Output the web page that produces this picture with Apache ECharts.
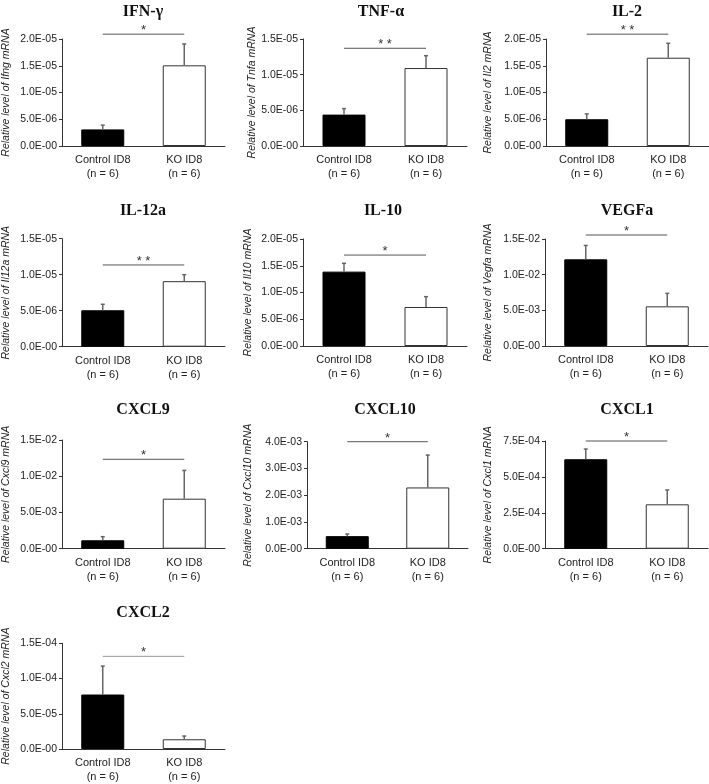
<!DOCTYPE html>
<html>
<head>
<meta charset="utf-8">
<script src="https://cdn.jsdelivr.net/npm/echarts@6/dist/echarts.min.js"></script>
<style>html,body{margin:0;padding:0;background:#fff}#c{width:709px;height:784px}</style>
</head>
<body>
<div id="c"></div>
<script>
// ---- data ----
const panelTitles = ['IFN-γ','TNF-α','IL-2','IL-12a','IL-10','VEGFa','CXCL9','CXCL10','CXCL1','CXCL2'];
const geneNames = ['Ifng','Tnfa','Il2','Il12a','Il10','Vegfa','Cxcl9','Cxcl10','Cxcl1','Cxcl2'];
const categories = ['Control ID8\n(n = 6)','KO ID8\n(n = 6)'];
const controlMean = [3.1e-6, 4.4e-6, 5.0e-6, 5.06e-6, 1.39e-5, 1.215e-2, 1.16e-3, 4.7e-4, 6.23e-4, 7.73e-5];
const controlErr  = [0.8e-6, 0.84e-6, 1.0e-6, 0.83e-6, 1.56e-6, 1.95e-3, 0.5e-3, 0.8e-4, 0.71e-4, 4.04e-5];
const koMean      = [1.508e-5, 1.093e-5, 1.65e-5, 9.1e-6, 7.29e-6, 5.56e-3, 6.9e-3, 2.29e-3, 3.09e-4, 1.38e-5];
const koErr       = [4.0e-6, 1.73e-6, 2.7e-6, 0.9e-6, 1.93e-6, 1.82e-3, 3.9e-3, 1.21e-3, 1.0e-4, 0.46e-5];
const axisMax     = [2e-5, 1.5e-5, 2e-5, 1.5e-5, 2e-5, 1.5e-2, 1.5e-2, 4e-3, 7.5e-4, 1.5e-4];
const axisStep    = [5e-6, 5e-6, 5e-6, 5e-6, 5e-6, 5e-3, 5e-3, 1e-3, 2.5e-4, 5e-5];
const sigLevel    = [2.09e-5, 1.37e-5, 2.09e-5, 1.135e-5, 1.70e-5, 1.556e-2, 1.234e-2, 4.0e-3, 7.5e-4, 1.315e-4];
const sigStars    = ['*','* *','* *','* *','*','*','*','*','*','*'];

// ---- layout (pixels) ----
const gridLeft   = [61, 303, 546, 61, 303, 545, 61, 307, 545, 61];
const gridTop    = [39, 39, 39, 238.7, 239, 239, 440, 441.7, 441, 643.3];
const gridHeight = [107, 107, 107, 108, 107, 107, 108.7, 107, 107.7, 108.7];
const gridWidth  = [164, 164, 163, 164, 164, 163, 164, 161, 163, 164];
const nameGap    = [50, 44, 52, 50, 49, 51, 50, 53, 51, 50];
const titleX     = [143, 381, 627, 143, 383, 627, 143, 385, 627, 143];
const titleY     = [11.5, 11.5, 11.5, 210.5, 210.5, 210.5, 409.5, 409.5, 409.5, 613];

const SANS = '"Liberation Sans", Arial, sans-serif';
const SERIF = '"Liberation Serif", "Times New Roman", serif';

function fmtExp(v) {
  if (Math.abs(v) < 1e-12) return '0.0E-00';
  const s = v.toExponential(1);
  const m = s.split('e');
  const exp = parseInt(m[1], 10);
  const sign = exp < 0 ? '-' : '+';
  const a = Math.abs(exp);
  return m[0] + 'E' + sign + (a < 10 ? '0' + a : '' + a);
}

const grids = [], xAxes = [], yAxes = [], series = [], graphics = [];
panelTitles.forEach((t, i) => {
  grids.push({left: gridLeft[i], top: gridTop[i], width: gridWidth[i], height: gridHeight[i], containLabel: false});
  xAxes.push({
    type: 'category', gridIndex: i, data: categories,
    axisLine: {lineStyle: {color: '#333', width: 1}},
    axisTick: {show: false},
    axisLabel: {fontFamily: SANS, fontSize: 11, color: '#222', lineHeight: 14, margin: 7, interval: 0}
  });
  yAxes.push({
    type: 'value', gridIndex: i, min: 0, max: axisMax[i], interval: axisStep[i],
    name: 'Relative level of ' + geneNames[i] + ' mRNA',
    nameLocation: 'middle', nameRotate: 90, nameGap: nameGap[i],
    nameTextStyle: {fontFamily: SANS, fontStyle: 'italic', fontSize: 10.5, color: '#222'},
    axisLine: {show: true, lineStyle: {color: '#333', width: 1}},
    axisTick: {show: true, length: 3, lineStyle: {color: '#333'}},
    splitLine: {show: false},
    axisLabel: {fontFamily: SANS, fontSize: 10.5, color: '#222', margin: 5, formatter: fmtExp}
  });
  series.push({
    type: 'bar', xAxisIndex: i, yAxisIndex: i, barWidth: 43, animation: false,
    data: [
      {value: controlMean[i], itemStyle: {color: '#000', borderColor: '#000', borderWidth: 1}},
      {value: koMean[i], itemStyle: {color: '#fff', borderColor: '#333', borderWidth: 1}}
    ]
  });
  series.push({
    type: 'custom', xAxisIndex: i, yAxisIndex: i, animation: false, clip: false, z: 5,
    data: [[0, controlMean[i], controlErr[i]], [1, koMean[i], koErr[i]]],
    encode: {x: 0, y: 1},
    renderItem: (params, api) => {
      const x = api.value(0), m = api.value(1), e = api.value(2);
      const p0 = api.coord([x, m]);
      const p1 = api.coord([x, m + e]);
      return {type: 'group', children: [
        {type: 'line', shape: {x1: p0[0], y1: p0[1], x2: p1[0], y2: p1[1]}, style: {stroke: '#666', lineWidth: 1.5}},
        {type: 'line', shape: {x1: p1[0] - 2, y1: p1[1], x2: p1[0] + 2, y2: p1[1]}, style: {stroke: '#666', lineWidth: 1.5}}
      ]};
    }
  });
  series.push({
    type: 'custom', xAxisIndex: i, yAxisIndex: i, animation: false, clip: false, z: 5,
    data: [[0, sigLevel[i]]],
    encode: {x: 0, y: 1},
    renderItem: (params, api) => {
      const y = api.value(1);
      const a = api.coord([0, y]);
      const b = api.coord([1, y]);
      return {type: 'group', children: [
        {type: 'line', shape: {x1: a[0], y1: a[1], x2: b[0], y2: b[1]}, style: {stroke: i === 9 ? '#999' : '#555', lineWidth: 1}},
        {type: 'text', x: (a[0] + b[0]) / 2, y: a[1] - 3.5,
         style: {text: sigStars[i], fontFamily: SANS, fontSize: 13, fill: '#333', align: 'center', verticalAlign: 'middle'}}
      ]};
    }
  });
  graphics.push({
    type: 'text', x: titleX[i], y: titleY[i],
    style: {text: t, fontFamily: SERIF, fontWeight: 'bold', fontSize: 16, fill: '#111', align: 'center', verticalAlign: 'middle'}
  });
});

const chart = echarts.init(document.getElementById('c'), null, {renderer: 'canvas'});
chart.setOption({
  backgroundColor: '#fff',
  animation: false,
  grid: grids, xAxis: xAxes, yAxis: yAxes, series: series, graphic: graphics
});
</script>
</body>
</html>
